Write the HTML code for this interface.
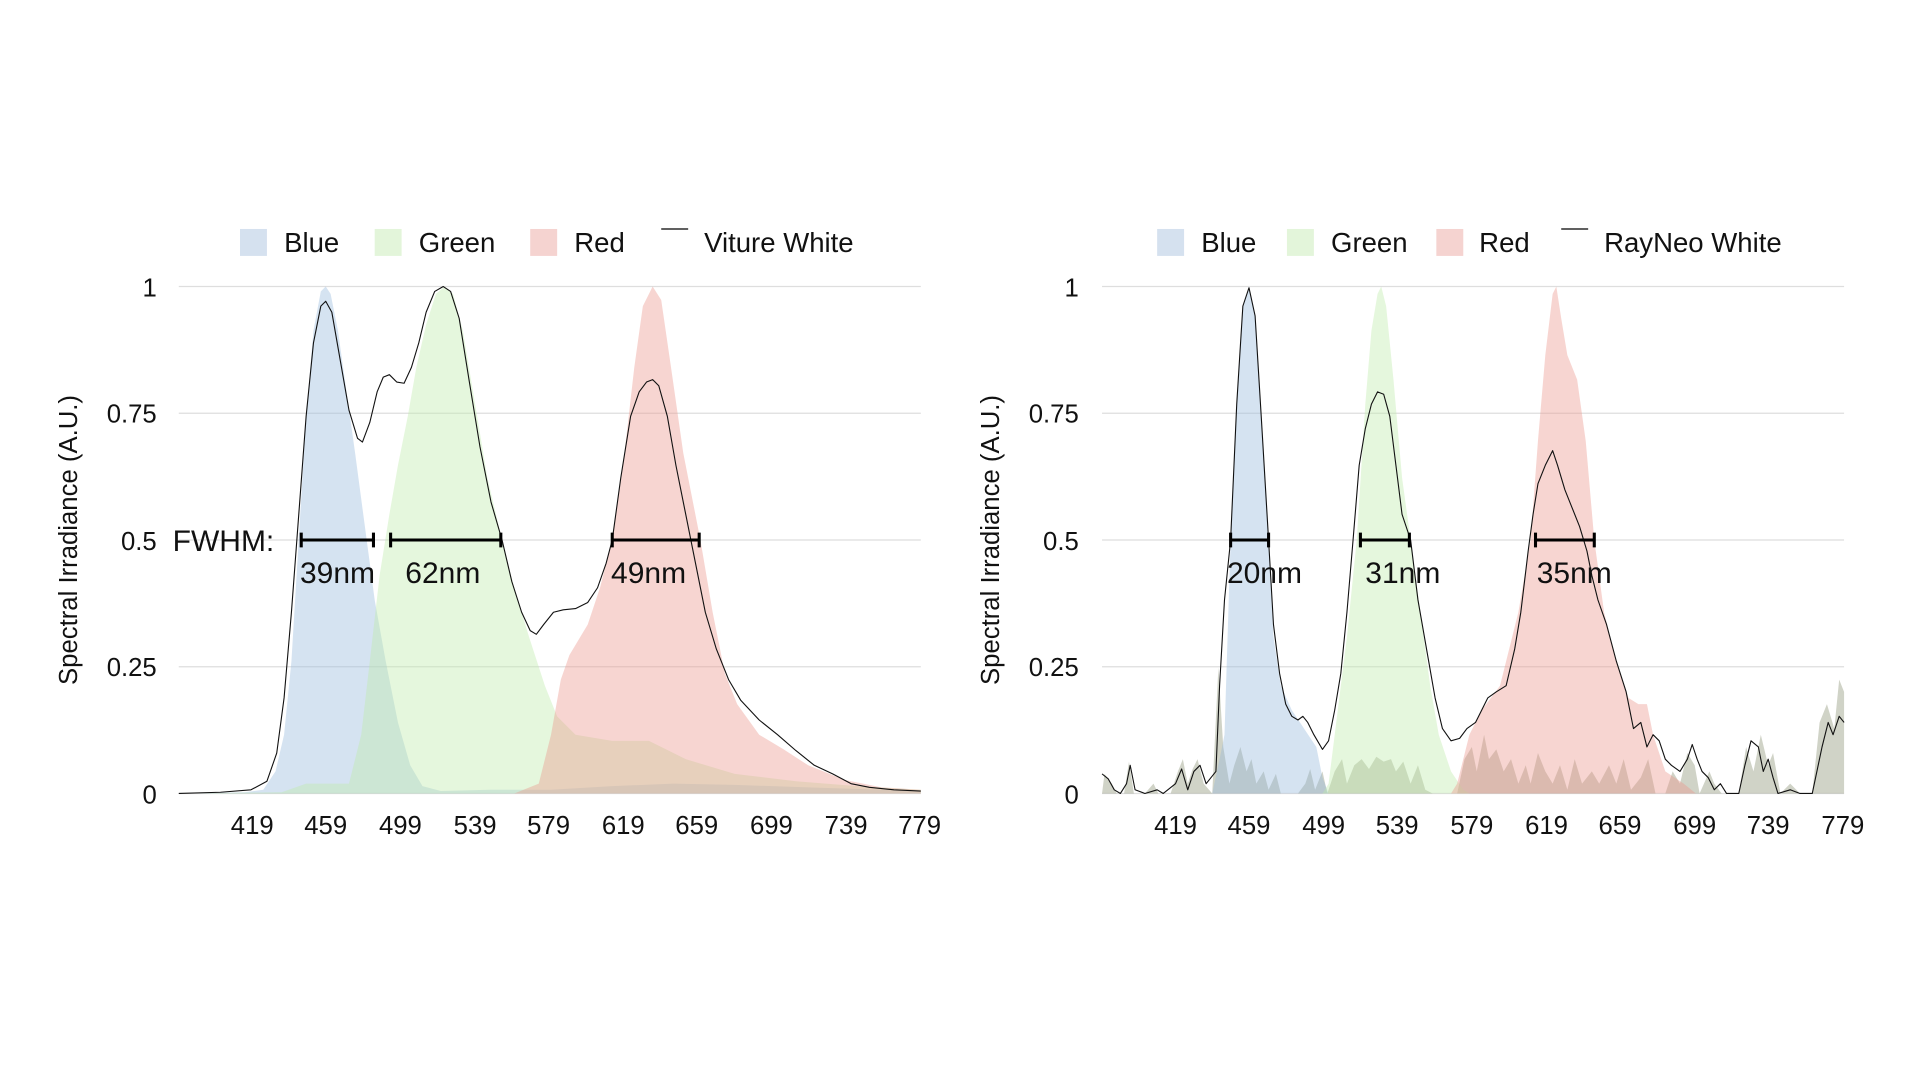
<!DOCTYPE html>
<html><head><meta charset="utf-8"><style>
html,body{margin:0;padding:0;background:#fff;}
svg{display:block;}
text{font-family:"Liberation Sans",Arial,sans-serif;fill:#111;}
</style></head><body>
<svg width="1920" height="1080" viewBox="0 0 1568 882" xmlns="http://www.w3.org/2000/svg">
<rect width="1568" height="882" fill="#fff"/>
<g stroke="#dedede" stroke-width="1">
<line x1="146" y1="234" x2="752" y2="234"/><line x1="146" y1="337.5" x2="752" y2="337.5"/><line x1="146" y1="441" x2="752" y2="441"/><line x1="146" y1="544.5" x2="752" y2="544.5"/><line x1="146" y1="648" x2="752" y2="648"/>
<line x1="900" y1="234" x2="1506" y2="234"/><line x1="900" y1="337.5" x2="1506" y2="337.5"/><line x1="900" y1="441" x2="1506" y2="441"/><line x1="900" y1="544.5" x2="1506" y2="544.5"/><line x1="900" y1="648" x2="1506" y2="648"/>
</g>
<g font-size="21">
<g text-anchor="end">
<text x="128" y="242">1</text><text x="128" y="345">0.75</text><text x="128" y="449">0.5</text><text x="128" y="552">0.25</text><text x="128" y="656">0</text>
<text x="881" y="242">1</text><text x="881" y="345">0.75</text><text x="881" y="449">0.5</text><text x="881" y="552">0.25</text><text x="881" y="656">0</text>
</g>
<g text-anchor="middle">
<text x="206" y="681">419</text><text x="266" y="681">459</text><text x="327" y="681">499</text><text x="388" y="681">539</text><text x="448" y="681">579</text><text x="509" y="681">619</text><text x="569" y="681">659</text><text x="630" y="681">699</text><text x="691" y="681">739</text><text x="751" y="681">779</text>
<text x="960" y="681">419</text><text x="1020" y="681">459</text><text x="1081" y="681">499</text><text x="1141" y="681">539</text><text x="1202" y="681">579</text><text x="1263" y="681">619</text><text x="1323" y="681">659</text><text x="1384" y="681">699</text><text x="1444" y="681">739</text><text x="1505" y="681">779</text>
</g>
<text transform="translate(63,441) rotate(-90)" text-anchor="middle">Spectral Irradiance (A.U.)</text>
<text transform="translate(816,441) rotate(-90)" text-anchor="middle">Spectral Irradiance (A.U.)</text>
</g>
<g font-size="22.5">
<rect x="196" y="187" width="22" height="22" fill="#d5e1ef"/><text x="232" y="206">Blue</text>
<rect x="306" y="187" width="22" height="22" fill="#e3f5da"/><text x="342" y="206">Green</text>
<rect x="433" y="187" width="22" height="22" fill="#f5d3d0"/><text x="469" y="206">Red</text>
<line x1="540" y1="187" x2="562" y2="187" stroke="#000" stroke-width="1"/><text x="575" y="206">Viture White</text>
<rect x="945" y="187" width="22" height="22" fill="#d5e1ef"/><text x="981" y="206">Blue</text>
<rect x="1051" y="187" width="22" height="22" fill="#e3f5da"/><text x="1087" y="206">Green</text>
<rect x="1173" y="187" width="22" height="22" fill="#f5d3d0"/><text x="1208" y="206">Red</text>
<line x1="1275" y1="187" x2="1297" y2="187" stroke="#000" stroke-width="1"/><text x="1310" y="206">RayNeo White</text>
</g>
<polygon fill="rgba(150,185,220,0.4)" points="146,648 200,647 215,645 225,630 232,600 238,540 244,440 250,340 256,270 262,238 266,234 270,240 276,270 283,320 290,370 298,430 306,490 315,540 325,590 335,625 345,642 360,646 400,645 450,645 500,642 550,640 600,641 660,643 752,646 752,648"/>
<polygon fill="rgba(190,235,170,0.4)" points="146,648 230,647 250,640 265,640 285,640 295,600 302,540 310,470 318,420 325,380 333,340 340,300 348,265 356,240 363,234 370,240 378,270 388,330 398,390 410,441 420,480 432,520 445,560 455,585 470,600 500,605 530,605 560,620 600,632 650,638 700,642 752,645 752,648"/>
<polygon fill="rgba(235,150,140,0.4)" points="146,648 420,648 440,640 450,600 458,555 465,535 480,510 490,480 500,441 510,370 518,300 525,250 533,234 540,245 548,300 558,370 572,441 582,500 592,550 602,575 620,600 640,612 660,625 690,637 720,643 752,645 752,648"/>
<polyline fill="none" stroke="#111" stroke-width="0.9" stroke-linejoin="round" points="146,648 180,647 205,645 218,638 226,615 232,570 238,500 244,420 250,340 256,280 262,250 266,246 271,255 278,295 285,335 292,358 296,361 302,345 308,320 313,308 318,306 324,312 330,313 336,300 342,280 348,255 355,238 362,234 368,238 375,260 383,310 392,365 401,410 410,441 418,475 426,500 433,515 438,518 444,510 452,500 460,498 470,497 480,492 488,480 495,460 500,441 507,390 515,340 522,320 528,312 533,310 538,315 545,340 552,380 560,420 568,460 576,500 585,530 595,555 605,572 620,588 635,600 650,613 665,625 680,632 695,640 710,643 730,645 752,646"/>
<polygon fill="rgba(120,130,95,0.35)" points="900,648 902,632 908,640 912,648 918,648 922,622 926,648 935,648 942,640 946,648 956,648 962,630 966,620 970,640 974,628 978,620 983,640 990,648 995,545 999,610 1004,640 1008,625 1013,610 1018,630 1022,620 1026,640 1032,630 1036,645 1042,632 1046,648 1060,648 1066,640 1070,628 1074,645 1080,630 1084,648 1090,630 1096,620 1100,640 1106,625 1112,620 1118,628 1124,618 1130,622 1136,620 1140,630 1146,622 1152,640 1158,625 1164,645 1170,648 1190,648 1196,620 1202,610 1206,630 1212,600 1216,620 1222,612 1228,630 1234,620 1240,640 1246,625 1250,640 1256,615 1262,630 1268,640 1274,625 1280,645 1286,620 1292,640 1300,630 1306,640 1314,625 1320,640 1326,620 1332,645 1340,635 1346,620 1352,648 1360,648 1366,630 1372,640 1378,615 1384,625 1388,648 1396,630 1400,640 1406,648 1420,648 1426,610 1432,630 1438,600 1444,625 1448,615 1454,648 1462,640 1470,648 1480,648 1486,590 1492,575 1498,595 1502,555 1506,565 1506,648"/>
<polygon fill="rgba(150,185,220,0.4)" points="990,648 996,620 1000,600 1005,441 1010,330 1015,250 1020,234 1025,260 1030,340 1036,441 1040,520 1046,560 1055,580 1065,595 1075,610 1080,635 1085,648"/>
<polygon fill="rgba(190,235,170,0.4)" points="1080,648 1085,640 1090,600 1100,520 1108,441 1115,330 1120,270 1125,240 1128,234 1132,250 1138,310 1145,390 1152,441 1160,500 1168,560 1175,600 1185,630 1195,645 1200,648"/>
<polygon fill="rgba(235,150,140,0.4)" points="1185,648 1190,640 1200,600 1210,580 1225,560 1240,500 1250,441 1256,360 1262,290 1268,240 1271,234 1275,260 1280,290 1288,310 1295,360 1302,441 1310,500 1320,540 1330,570 1338,575 1345,575 1350,600 1360,630 1375,640 1385,648"/>
<polyline fill="none" stroke="#111" stroke-width="0.9" stroke-linejoin="round" points="900,632 905,636 910,645 915,648 920,640 923,625 927,645 935,648 945,645 950,648 960,640 965,628 970,645 975,630 980,625 985,640 993,630 996,560 1000,490 1005,441 1010,330 1015,250 1020,235 1025,258 1030,340 1036,441 1040,510 1045,550 1050,575 1055,585 1060,588 1064,585 1068,590 1073,600 1080,612 1085,605 1090,580 1095,550 1100,500 1105,441 1110,380 1115,350 1120,330 1125,320 1130,322 1135,340 1140,380 1145,420 1152,441 1158,490 1165,530 1172,570 1178,595 1185,605 1192,603 1198,595 1205,590 1210,580 1215,570 1222,565 1230,560 1237,530 1242,500 1248,450 1252,420 1256,395 1262,380 1268,368 1272,380 1278,400 1284,415 1290,430 1296,450 1300,470 1305,490 1312,510 1320,540 1328,565 1334,595 1340,590 1345,610 1350,600 1355,605 1360,620 1365,625 1372,630 1378,620 1382,608 1386,620 1390,630 1395,635 1400,645 1405,640 1410,648 1420,648 1425,625 1430,605 1436,610 1440,630 1444,620 1448,635 1452,648 1462,645 1470,648 1480,648 1488,610 1493,590 1497,600 1502,585 1506,590"/>
<g stroke="#000" stroke-width="2.5" fill="none">
<path d="M246,441H305M246,435V447M305,435V447"/>
<path d="M319,441H409M319,435V447M409,435V447"/>
<path d="M500,441H571M500,435V447M571,435V447"/>
<path d="M1005,441H1036M1005,435V447M1036,435V447"/>
<path d="M1111,441H1151M1111,435V447M1151,435V447"/>
<path d="M1254,441H1302M1254,435V447M1302,435V447"/>
</g>
<g font-size="24.5">
<text x="141" y="450">FWHM:</text>
<text x="245" y="476">39nm</text><text x="331" y="476">62nm</text><text x="499" y="476">49nm</text>
<text x="1002" y="476">20nm</text><text x="1115" y="476">31nm</text><text x="1255" y="476">35nm</text>
</g>
</svg>
</body></html>
